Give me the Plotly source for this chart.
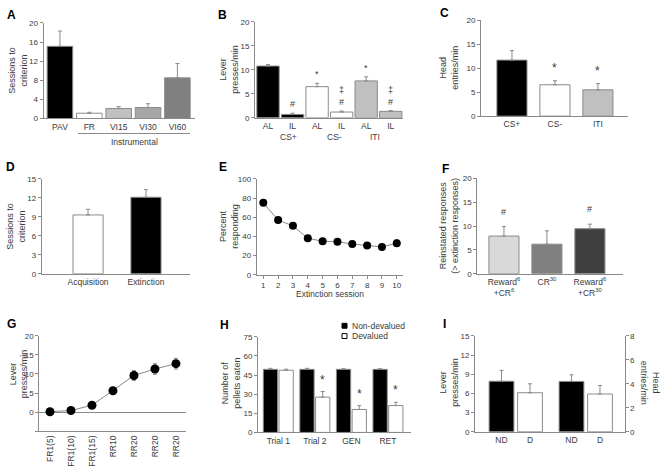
import plotly.graph_objects as go

# ---------------- data ----------------
A_cats = ["PAV", "FR", "VI15", "VI30", "VI60"]
A_means = [15.1, 1.1, 2.1, 2.3, 8.5]
A_sem = [3.2, 0.2, 0.4, 0.8, 3.0]

B_ids = ["CS+ AL", "CS+ IL", "CS- AL", "CS- IL", "ITI AL", "ITI IL"]
B_ticks = ["AL", "IL", "AL", "IL", "AL", "IL"]
B_groups = ["CS+", "CS-", "ITI"]
B_means = [10.8, 0.7, 6.5, 1.2, 7.7, 1.35]
B_sem = [0.3, 0.25, 0.7, 0.2, 0.85, 0.15]
B_sig = ["", "#", "*", "‡<br>#", "*", "‡<br>#"]

C_cats = ["CS+", "CS-", "ITI"]
C_means = [11.7, 6.55, 5.5]
C_sem = [2.0, 0.85, 1.3]
C_sig = ["", "*", "*"]

D_cats = ["Acquisition", "Extinction"]
D_means = [9.3, 12.1]
D_sem = [0.9, 1.2]

E_sessions = [1, 2, 3, 4, 5, 6, 7, 8, 9, 10]
E_means = [75, 57, 51, 38, 35, 34.5, 32, 30.5, 29, 33]
E_sem = [2.0, 2.0, 1.5, 2.0, 1.5, 1.5, 1.5, 1.5, 1.5, 3.5]

F_ids = ["R6+CR6", "CR30", "R6+CR30"]
F_ticks = ["Reward<sup>6</sup><br>+CR<sup>6</sup>", "CR<sup>30</sup>",
           "Reward<sup>6</sup><br>+CR<sup>30</sup>"]
F_means = [7.9, 6.2, 9.45]
F_sem = [2.0, 2.8, 0.95]
F_sig = ["#", "", "#"]

G_ids = ["g1", "g2", "g3", "g4", "g5", "g6", "g7"]
G_ticks = ["FR1(5)", "FR1(10)", "FR1(15)", "RR10", "RR20", "RR20", "RR20"]
G_means = [0.1, 0.4, 1.8, 5.6, 9.6, 11.3, 12.7]
G_sem = [0.3, 0.3, 0.3, 0.6, 1.3, 1.4, 1.4]

H_cats = ["Trial 1", "Trial 2", "GEN", "RET"]
H_nondev = [49.5, 49.5, 49.5, 49.5]
H_nondev_sem = [0.8, 0.8, 0.5, 0.5]
H_dev = [48.8, 27.7, 18.0, 21.1]
H_dev_sem = [0.8, 4.4, 3.0, 2.5]
H_sig = ["", "*", "*", "*"]

I_cats = ["ND", "D"]
I_lever = [7.9, 6.1]
I_lever_sem = [1.7, 1.4]
I_head = [4.2, 3.15]
I_head_sem = [0.55, 0.7]

# ---------------- style ----------------
W, H = 662, 474
FONT = "Liberation Sans, Arial, sans-serif"
TXT = "#3a3a3a"
AX = "#8a8a8a"
TICKF = dict(family=FONT, size=8, color=TXT)
CATF = dict(family=FONT, size=8.5, color=TXT)


def px(x):
    return x / W


def py(y):
    return 1 - y / H


fig = go.Figure()
layout = {}
annotations = []
shapes = []


def axes(n, xpx, ypx, xrange, yrange, ydtick=None, xtype="category",
         tickvals=None, ticktext=None, xticks="", yside="left",
         ytickvals=None, yticktext=None, xtickangle=0, zeroline=False):
    sx = "" if n == 1 else str(n)
    xa = dict(domain=[px(xpx[0]), px(xpx[1])], range=xrange, type=xtype,
              anchor="y" + sx, showline=True, linecolor=AX, linewidth=1,
              showgrid=False, zeroline=False, ticks=xticks, ticklen=3,
              tickcolor=AX, tickfont=CATF, fixedrange=True, tickangle=xtickangle)
    if tickvals is not None:
        xa["tickmode"] = "array"
        xa["tickvals"] = tickvals
        xa["ticktext"] = ticktext
    ya = dict(domain=[py(ypx[1]), py(ypx[0])], range=yrange, anchor="x" + sx,
              showline=True, linecolor=AX, linewidth=1, showgrid=False,
              zeroline=zeroline, zerolinecolor=AX, zerolinewidth=1,
              ticks="outside", ticklen=3, tickcolor=AX, tickfont=TICKF,
              side=yside, fixedrange=True)
    if ytickvals is not None:
        ya["tickmode"] = "array"
        ya["tickvals"] = ytickvals
        ya["ticktext"] = yticktext
    else:
        ya["dtick"] = ydtick
        ya["tick0"] = 0
    layout["xaxis" + sx] = xa
    layout["yaxis" + sx] = ya
    return "x" + sx, "y" + sx


def bar(xr, yr, x, y, sem, colors, width, offset=None):
    n = len(y)
    tr = go.Bar(x=x, y=y, xaxis=xr, yaxis=yr, width=width,
                marker=dict(color=colors, line=dict(color=AX, width=1)),
                error_y=dict(type="data", symmetric=False, array=sem,
                             arrayminus=[0] * n, color=AX, thickness=1, width=2),
                showlegend=False, hoverinfo="skip")
    if offset is not None:
        tr.offset = offset
    fig.add_trace(tr)


def sig(xr, yr, x, y, sem, marks, shift=1, size=10, xshift=0):
    for xi, yi, si, m in zip(x, y, sem, marks):
        if m:
            annotations.append(dict(x=xi, y=yi + si, xref=xr, yref=yr, text=m,
                                    showarrow=False, yanchor="bottom", yshift=shift,
                                    xshift=xshift,
                                    font=dict(family=FONT, size=size, color=TXT)))


def ytitle(text, xpx, ypx, angle=-90):
    annotations.append(dict(x=px(xpx), y=py(ypx), xref="paper", yref="paper",
                            text=text, showarrow=False, textangle=angle,
                            xanchor="center", yanchor="middle",
                            font=dict(family=FONT, size=9, color=TXT)))


def label(text, xpx, ypx, size=8.5, bold=False, color=TXT, xanchor="center"):
    annotations.append(dict(x=px(xpx), y=py(ypx), xref="paper", yref="paper",
                            text=("<b>%s</b>" % text) if bold else text,
                            showarrow=False, xanchor=xanchor, yanchor="middle",
                            font=dict(family=FONT, size=size, color=color)))


# ---------------- panel A ----------------
xa, ya = axes(1, (43.5, 195), (19.3, 116.7), [-0.56, 4.6], [0, 20], ydtick=4)
bar(xa, ya, A_cats, A_means, A_sem,
    ["#000000", "#ffffff", "#c0c0c0", "#a6a6a6", "#808080"], 0.87)
shapes.append(dict(type="line", xref="paper", yref="paper", x0=px(78), x1=px(190),
                   y0=py(132), y1=py(132), line=dict(color=AX, width=1)))
label("Instrumental", 134, 141)
ytitle("Sessions to<br>criterion", 18, 68)
label("A", 11.5, 11.5, size=12, bold=True, color="#000")

# ---------------- panel B ----------------
xb, yb = axes(2, (255, 403), (18.3, 116), [-0.53, 5.5], [0, 20], ydtick=5,
              tickvals=B_ids, ticktext=B_ticks)
bar(xb, yb, B_ids, B_means, B_sem,
    ["#000000", "#000000", "#ffffff", "#ffffff", "#c0c0c0", "#c0c0c0"], 0.91)
sig(xb, yb, B_ids, B_means, B_sem, B_sig, shift=2, size=9)
for g, xp in zip(B_groups, [288, 334, 375]):
    label(g, xp, 136)
ytitle("Lever<br>presses/min", 229, 67)
label("B", 222.5, 11.5, size=12, bold=True, color="#000")

# ---------------- panel C ----------------
xc, yc = axes(3, (481, 628), (16.7, 114.3), [-0.72, 2.7], [0, 20], ydtick=5)
bar(xc, yc, C_cats, C_means, C_sem, ["#000000", "#ffffff", "#c0c0c0"], 0.7)
sig(xc, yc, C_cats, C_means, C_sem, C_sig, shift=4, size=12)
ytitle("Head<br>entries/min", 449, 65)
label("C", 444.5, 9, size=12, bold=True, color="#000")

# ---------------- panel D ----------------
xd, yd = axes(4, (41.7, 190), (178.3, 275), [-0.8, 1.76], [0, 15], ydtick=3)
bar(xd, yd, D_cats, D_means, D_sem, ["#ffffff", "#000000"], 0.52)
ytitle("Sessions to<br>criterion", 16, 227)
label("D", 10, 166, size=12, bold=True, color="#000")

# ---------------- panel E ----------------
xe, ye = axes(5, (256.7, 402.7), (178.3, 276), [0.555, 10.4], [0, 100], ydtick=20,
              xtype="linear", xticks="outside")
layout["xaxis5"]["dtick"] = 1
layout["xaxis5"]["tick0"] = 1
layout["xaxis5"]["tickfont"] = TICKF
fig.add_trace(go.Scatter(x=E_sessions, y=E_means, xaxis=xe, yaxis=ye, mode="lines+markers",
                         line=dict(color=AX, width=1),
                         marker=dict(color="#000", size=8),
                         error_y=dict(type="data", array=E_sem, color=AX, thickness=1, width=2),
                         showlegend=False, hoverinfo="skip"))
label("Extinction session", 329.7, 296)
ytitle("Percent<br>responding", 229, 227)
label("E", 222.5, 166, size=12, bold=True, color="#000")

# ---------------- panel F ----------------
xf, yf = axes(6, (477.3, 623), (177.7, 275), [-0.62, 2.77], [0, 20], ydtick=5,
              tickvals=F_ids, ticktext=F_ticks)
bar(xf, yf, F_ids, F_means, F_sem, ["#d9d9d9", "#808080", "#404040"], 0.7)
sig(xf, yf, F_ids, F_means, F_sem, F_sig, shift=8, size=9)
ytitle("Reinstated responses<br>(> extinction responses)", 449, 226)
label("F", 445, 168, size=12, bold=True, color="#000")

# ---------------- panel G ----------------
xg, yg = axes(7, (39.3, 186), (338.3, 435.4), [-0.51, 6.48], [-5, 20],
              tickvals=G_ids, ticktext=G_ticks, xticks="", xtickangle=-90,
              ytickvals=[-5, 0, 5, 10, 15, 20], yticktext=["", "0", "5", "10", "15", "20"],
              zeroline=True)
fig.add_trace(go.Scatter(x=G_ids, y=G_means, xaxis=xg, yaxis=yg, mode="lines+markers",
                         line=dict(color=AX, width=1),
                         marker=dict(color="#000", size=9),
                         error_y=dict(type="data", array=G_sem, color=AX, thickness=1, width=2),
                         showlegend=False, hoverinfo="skip"))
ytitle("Lever<br>presses/min", 18.5, 377)
label("G", 11.5, 326, size=12, bold=True, color="#000")

# ---------------- panel H ----------------
xh, yh = axes(8, (258, 411), (339.3, 436.7), [-0.555, 3.63], [0, 75], ydtick=15)
bar(xh, yh, H_cats, H_nondev, H_nondev_sem, "#000000", 0.39, offset=-0.41)
bar(xh, yh, H_cats, H_dev, H_dev_sem, "#ffffff", 0.39, offset=0.02)
sig(xh, yh, H_cats, H_dev, H_dev_sem, H_sig, shift=3, size=12, xshift=8)
shapes.append(dict(type="rect", xref="paper", yref="paper", x0=px(342), x1=px(347),
                   y0=py(330.5), y1=py(325.5), fillcolor="#000", line=dict(color="#000", width=1)))
shapes.append(dict(type="rect", xref="paper", yref="paper", x0=px(342), x1=px(347),
                   y0=py(341), y1=py(336), fillcolor="#fff", line=dict(color="#000", width=1)))
label("Non-devalued", 350, 328, xanchor="left")
label("Devalued", 350, 338.5, xanchor="left")
ytitle("Number of<br>pellets eaten", 231, 387)
label("H", 224.5, 327.5, size=12, bold=True, color="#000")

# ---------------- panel I ----------------
xi, yi = axes(9, (475, 549.75), (338.3, 436), [-0.93, 1.693], [0, 15], ydtick=3)
xj, yj = axes(10, (549.75, 624.5), (338.3, 436), [-0.763, 1.86], [0, 8], ydtick=2,
              yside="right")
bar(xi, yi, I_cats, I_lever, I_lever_sem, ["#000000", "#ffffff"], 0.87)
bar(xj, yj, I_cats, I_head, I_head_sem, ["#000000", "#ffffff"], 0.87)
ytitle("Lever<br>presses/min", 449, 386)
ytitle("Head<br>entries/min", 650, 386, angle=90)
label("I", 444, 326, size=12, bold=True, color="#000")

layout.update(dict(width=W, height=H, margin=dict(l=0, r=0, t=0, b=0),
                   paper_bgcolor="white", plot_bgcolor="white", barmode="overlay",
                   showlegend=False, annotations=annotations, shapes=shapes,
                   font=dict(family=FONT, color=TXT)))
fig.update_layout(**layout)
fig.write_html("out.html", config={"displayModeBar": False},
               post_script="document.body.style.margin='0';document.body.style.padding='0';")
